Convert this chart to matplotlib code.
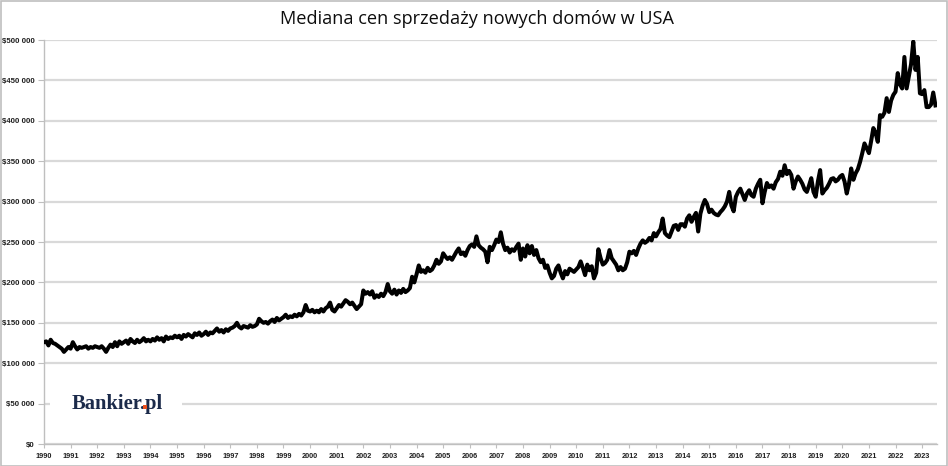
import matplotlib
matplotlib.use("Agg")
import matplotlib.pyplot as plt
from matplotlib.patches import Rectangle
import numpy as np

# Median sales price of new houses sold in the US, monthly, thousands USD (Jan 1990 - Jul 2023)
years = list(range(1990, 2024))
prices_k = {
    1990: [126, 127, 122, 129, 125, 124, 122, 120, 118, 114, 117, 120],
    1991: [118, 126, 121, 117, 120, 119, 120, 121, 118, 120, 119, 121],
    1992: [120, 119, 121, 118, 114, 119, 123, 120, 126, 121, 127, 124],
    1993: [126, 128, 124, 130, 127, 125, 129, 126, 128, 131, 127, 129],
    1994: [127, 130, 128, 132, 129, 131, 127, 133, 130, 132, 131, 134],
    1995: [132, 134, 130, 135, 133, 136, 134, 132, 137, 135, 138, 134],
    1996: [136, 139, 135, 138, 137, 140, 143, 139, 141, 138, 142, 140],
    1997: [143, 144, 146, 150, 145, 143, 146, 145, 144, 147, 145, 146],
    1998: [148, 155, 152, 150, 151, 149, 152, 154, 151, 156, 153, 155],
    1999: [157, 160, 156, 158, 157, 160, 158, 161, 159, 163, 172, 165],
    2000: [164, 166, 163, 165, 163, 167, 164, 168, 170, 175, 166, 164],
    2001: [168, 172, 170, 174, 178, 176, 173, 175, 171, 167, 170, 173],
    2002: [190, 186, 188, 185, 189, 181, 184, 182, 186, 183, 188, 198],
    2003: [189, 186, 191, 185, 190, 187, 192, 188, 190, 193, 207, 200],
    2004: [210, 221, 213, 215, 212, 218, 214, 216, 221, 228, 223, 226],
    2005: [236, 232, 229, 231, 228, 233, 238, 242, 235, 237, 233, 240],
    2006: [245, 247, 244, 257, 246, 243, 241, 238, 225, 244, 240, 246],
    2007: [253, 250, 262, 248, 240, 243, 237, 241, 239, 244, 248, 228],
    2008: [242, 232, 246, 236, 245, 234, 240, 230, 225, 228, 218, 221],
    2009: [212, 205, 208, 217, 221, 212, 205, 214, 210, 217, 215, 213],
    2010: [216, 219, 226, 218, 209, 222, 215, 220, 205, 212, 241, 230],
    2011: [222, 224, 228, 240, 230, 226, 222, 215, 219, 215, 217, 225],
    2012: [238, 236, 239, 234, 242, 248, 252, 249, 251, 255, 252, 261],
    2013: [257, 262, 266, 279, 261, 258, 256, 263, 270, 271, 265, 272],
    2014: [272, 269, 279, 283, 275, 281, 286, 263, 285, 295, 302, 297],
    2015: [287, 290, 286, 284, 283, 287, 290, 294, 300, 312, 295, 288],
    2016: [306, 312, 316, 309, 302, 310, 314, 308, 306, 316, 322, 327],
    2017: [298, 312, 323, 318, 320, 316, 324, 328, 337, 332, 345, 334],
    2018: [338, 333, 316, 325, 331, 327, 322, 315, 312, 320, 329, 312],
    2019: [306, 325, 339, 310, 314, 317, 322, 328, 329, 325, 327, 331],
    2020: [333, 325, 310, 322, 341, 327, 335, 340, 349, 360, 372, 366],
    2021: [360, 375, 391, 385, 374, 407, 405, 410, 428, 411, 425, 432],
    2022: [436, 459, 445, 440, 479, 440, 455, 470, 498, 463, 479, 434],
    2023: [433, 438, 417, 417, 420, 435, 419],
}
y_ticks = [0, 50000, 100000, 150000, 200000, 250000, 300000, 350000, 400000, 450000, 500000]
title = "Mediana cen sprzedaży nowych domów w USA"

values = []
for yr in years:
    values.extend(prices_k[yr])
values = np.array(values, dtype=float) * 1000
idx = np.arange(len(values))

W, H = 948, 466
AX_L, AX_R, AX_T, AX_B = 44, 937, 40, 444
fig = plt.figure(figsize=(W / 100, H / 100), dpi=100)
fig.patch.set_facecolor("white")
ax = fig.add_axes([AX_L / W, 1 - AX_B / H, (AX_R - AX_L) / W, (AX_B - AX_T) / H])

ax.plot(idx, values, color="black", lw=2.9, solid_joinstyle="round", zorder=3)

ax.set_ylim(0, 500000)
ax.set_xlim(0, len(values) - 0.3)

grid_c = "#D9D9D9"
tick_font = dict(fontweight="bold", fontfamily="Liberation Sans", color="#1F1F1F")
ax.set_yticks(y_ticks)
ax.set_yticklabels(["$" + format(v, ",").replace(",", " ") for v in y_ticks],
                   fontsize=5.7, **tick_font)
ax.yaxis.grid(True, color=grid_c, lw=1.6)
ax.set_axisbelow(True)

year_pos = [12 * i for i in range(len(years))]
ax.set_xticks(year_pos)
ax.set_xticklabels([str(y) for y in years], fontsize=5.3, **tick_font)

for s in ["top", "right"]:
    ax.spines[s].set_visible(False)
for s in ["left", "bottom"]:
    ax.spines[s].set_color("#BFBFBF")
    ax.spines[s].set_linewidth(1.0)

ax.tick_params(axis="y", length=4, width=0.8, color="#BFBFBF", pad=2.5)
ax.tick_params(axis="x", length=3, width=0.8, color="#BFBFBF", pad=3.5)

t = fig.text(477 / W, 1 - 19 / H, title, ha="center", va="center",
             fontsize=15.5, color="#0D0D0D", family="Open Sans")
fig.canvas.draw()
renderer = fig.canvas.get_renderer()
bb = t.get_window_extent(renderer)
t.set_fontsize(15.5 * 395 / bb.width)

# logo with white patch interrupting the gridline
def px_to_axx(px):
    return (px - AX_L) / (AX_R - AX_L)

ax.add_patch(Rectangle((px_to_axx(50), 46000), px_to_axx(182) - px_to_axx(50), 8000,
                       transform=ax.get_yaxis_transform(), fc="white", ec="none",
                       zorder=2.5))
navy = "#1B2A4A"
logo_font = dict(fontsize=14.8, fontweight="bold", family="Liberation Serif")
ly = (AX_B - 409) / (AX_B - AX_T)
lx = px_to_axx(72)
logo = ax.text(lx, ly, "Bankier.pl", transform=ax.transAxes, ha="left",
               va="baseline", color=navy, zorder=4, **logo_font)
# locate the dot to colour it
tmp = ax.text(lx, ly, "Bankier.", transform=ax.transAxes, ha="left",
              va="baseline", **logo_font)
fig.canvas.draw()
ext = tmp.get_window_extent(renderer)
tmp.remove()
x0_disp, base_disp = ax.transAxes.transform((lx, ly))
dot_px = 3.2
dot_x_disp = ext.x1 - dot_px / 2
dot_y_disp = base_disp + dot_px / 2
dx, dy = ax.transAxes.inverted().transform((dot_x_disp, dot_y_disp))
ax.plot([dx], [dy], marker="s", ms=dot_px * 0.72 + 0.3, mew=0, color="#E8501E",
        transform=ax.transAxes, zorder=5, clip_on=False)

fig.patches.append(Rectangle((0.5 / W, 0.5 / H), 1 - 1.5 / W, 1 - 1.5 / H,
                             transform=fig.transFigure, fill=False,
                             ec="#BFBFBF", lw=1.2, zorder=10))

fig.savefig("out.png", dpi=100, facecolor="white")
